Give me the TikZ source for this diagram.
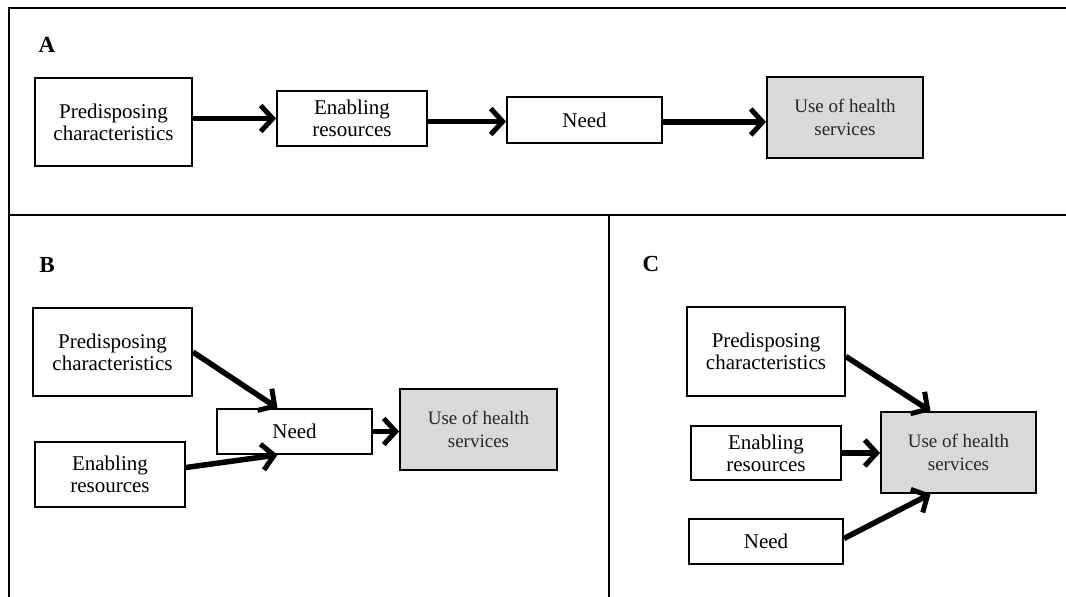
\documentclass[tikz,border=0pt]{standalone}
\usepackage{fontspec}
\setmainfont{Liberation Serif}
\usetikzlibrary{arrows.meta}
\definecolor{usefill}{HTML}{D9D9D9}
\definecolor{usetext}{HTML}{262626}
\tikzset{
  box/.style={draw=black, line width=1.8pt, fill=white, align=center, inner sep=0pt,
    font=\fontsize{21}{22}\selectfont},
  usebox/.style={box, fill=usefill, text=usetext, font=\fontsize{19}{23}\selectfont},
  conn/.style={line width=5.5pt, -{Straight Barb[length=12pt,width=26pt,line width=5pt]}},
  frame/.style={line width=2.4pt, black},
  panel/.style={font=\fontsize{23}{24}\selectfont\bfseries, inner sep=0pt}
}
\begin{document}
\begin{tikzpicture}[x=1pt,y=-1pt]
\useasboundingbox[fill=white] (0,0) rectangle (1066,597);
% frame
\draw[frame] (1066,8) -- (9,8) -- (9,597);
\draw[frame, line width=2pt] (9,215) -- (1066,215);
\draw[frame, line width=2pt] (609,215) -- (609,597);
% panel labels
\node[panel] (lA) at (47,45) {A};
\node[panel] (lB) at (47,265) {B};
\node[panel] (lC) at (651,264) {C};
% Panel A
\node[box, minimum width=157pt, minimum height=88pt] (pa) at (113.5,122) {Predisposing\\characteristics};
\node[box, minimum width=150pt, minimum height=55pt] (ea) at (352,118.5) {Enabling\\resources};
\node[box, minimum width=155pt, minimum height=46pt] (na) at (584.5,120) {Need};
\node[usebox, minimum width=156pt, minimum height=81pt] (ua) at (845,117.5) {Use of health\\services};
\draw[conn] (pa.east |- ea.west) -- (ea.west);
\draw[conn] ([yshift=-3pt]ea.east) -- ([yshift=-3pt]ea.east -| na.west);
\draw[conn] ([yshift=-2pt]na.east) -- ([yshift=-2pt]na.east -| ua.west);
% Panel B
\node[box, minimum width=159pt, minimum height=88pt] (pb) at (112.5,352) {Predisposing\\characteristics};
\node[box, minimum width=150pt, minimum height=65pt] (eb) at (110,474.5) {Enabling\\resources};
\node[box, minimum width=155pt, minimum height=45pt] (nb) at (294.5,431.5) {Need};
\node[usebox, minimum width=157pt, minimum height=81pt] (ub) at (478.5,429.5) {Use of health\\services};
\draw[conn] (pb.east) -- ([xshift=-17pt]nb.north);
\draw[conn] ([yshift=7pt]eb.east) -- ([xshift=-17pt]nb.south);
\draw[conn] (nb.east) -- (nb.east -| ub.west);
% Panel C
\node[box, minimum width=158pt, minimum height=89pt] (pc) at (766,351.5) {Predisposing\\characteristics};
\node[box, minimum width=150pt, minimum height=54pt] (ec) at (766,453) {Enabling\\resources};
\node[box, minimum width=154pt, minimum height=45pt] (nc) at (766,541.5) {Need};
\node[usebox, minimum width=155pt, minimum height=81pt] (uc) at (958.5,452.5) {Use of health\\services};
\draw[conn] ([yshift=-5pt]pc.east) -- ([xshift=-28pt]uc.north);
\draw[conn] (ec.east) -- (ec.east -| uc.west);
\draw[conn] ([yshift=3pt]nc.east) -- ([xshift=-28pt]uc.south);
\end{tikzpicture}
\end{document}
